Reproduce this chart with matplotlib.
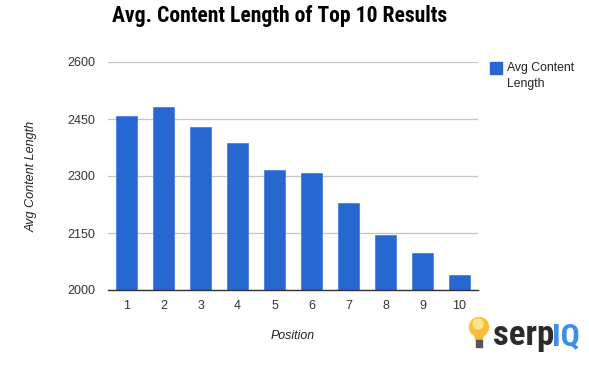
import matplotlib
matplotlib.use("Agg")
import matplotlib.pyplot as plt
from matplotlib.patches import Circle, Rectangle, Polygon

positions = [1, 2, 3, 4, 5, 6, 7, 8, 9, 10]
avg_length = [2458, 2482, 2429, 2387, 2317, 2309, 2228, 2145, 2097, 2040]
y_ticks = [2000, 2150, 2300, 2450, 2600]
BAR = "#2767D0"
NARROW = ['Roboto Condensed', 'Liberation Sans']

W, H = 589, 368
plt.rcParams['font.family'] = ['Liberation Sans', 'DejaVu Sans']
fig = plt.figure(figsize=(W / 100, H / 100), dpi=100)
L, R, T, B = 108, 478, 62, 290
ax = fig.add_axes([L / W, 1 - B / H, (R - L) / W, (B - T) / H])
ax.bar(positions, avg_length, width=0.585, color=BAR, edgecolor="#3B7AE0", linewidth=0.5, zorder=2)
ax.set_xlim(0.5, 10.5)
ax.set_ylim(2000, 2600)
ax.set_xticks(positions)
ax.set_yticks(y_ticks)
ax.tick_params(length=0, labelsize=9, labelcolor="#333333")
ax.tick_params(axis='x', pad=7.5)
ax.tick_params(axis='y', pad=9.4)
ax.grid(axis='y', color="#C4C4C4", linewidth=0.9, zorder=0)
ax.set_axisbelow(True)
for s in ['top', 'right', 'left']:
    ax.spines[s].set_visible(False)
ax.spines['bottom'].set_color("#333333")
ax.spines['bottom'].set_linewidth(1.0)

fig.text(280 / W, 1 - 16 / H, "Avg. Content Length of Top 10 Results", ha='center', va='center',
         fontsize=15.6, fontweight='bold', color="black", family=NARROW)
fig.text(32 / W, 1 - 176.5 / H, "Avg Content Length", rotation=90, ha='center', va='center',
         fontsize=9.1, style='italic', color="#222222")
fig.text(293 / W, 1 - 336 / H, "Position", ha='center', va='center', fontsize=8.9, style='italic', color="#222222")

fig.add_artist(Rectangle((490 / W, 1 - 74 / H), 12 / W, 12 / H, transform=fig.transFigure, color=BAR))
fig.text(507 / W, 1 - 76 / H, "Avg Content\nLength", ha='left', va='center', fontsize=8.8,
         color="#222222", linespacing=1.35)

# logo
ov = fig.add_axes([0, 0, 1, 1], facecolor='none')
ov.set_xlim(0, W); ov.set_ylim(H, 0); ov.axis('off')
ov.add_patch(Polygon([(474, 333), (484, 333), (482, 340), (476, 340)], color="#F7B733"))
ov.add_patch(Circle((479, 327), 9.5, color="#F9BE3A"))
ov.add_patch(Circle((478, 324), 5, color="#FDE38C"))
ov.add_patch(Rectangle((475.5, 340), 6.5, 7, color="#555555"))
ov.text(493, 345, "serp", fontsize=25, fontweight='bold', color="#2B2B2B", va='baseline', ha='left', family=NARROW)
ov.text(552, 345, "IQ", fontsize=23, fontweight='bold', color="#3B8FEA", va='baseline', ha='left', family=NARROW)
fig.savefig("out.png", dpi=100)
